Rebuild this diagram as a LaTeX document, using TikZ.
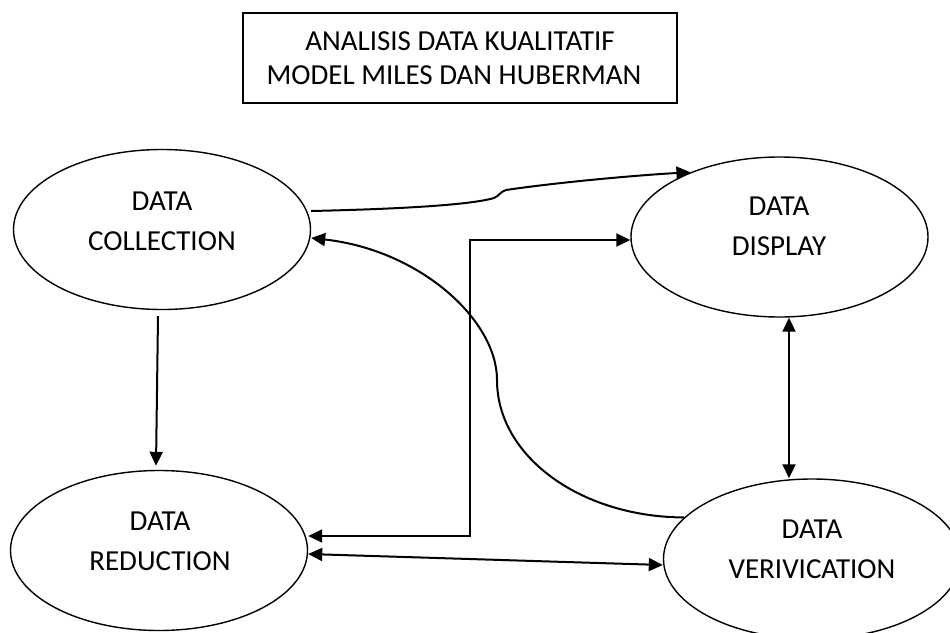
\documentclass[tikz,border=0pt]{standalone}
\usepackage{fontspec}
\setmainfont{Carlito}
\usetikzlibrary{shapes.geometric,arrows.meta}
\begin{document}
\begin{tikzpicture}[x=1pt,y=-1pt]
       \tikzstyle{bubble}=[draw,ellipse,line width=1.4pt,minimum width=297pt,minimum height=160pt,inner sep=0pt]
       \tikzstyle{bubbletext}=[align=center,font=\fontsize{29}{40}\selectfont]
       \tikzstyle{titlebox}=[draw,line width=1.4pt,minimum width=434pt,minimum height=90pt,align=center,font=\fontsize{29}{34}\selectfont]
       \tikzstyle{flow}=[line width=2pt,-{Triangle[length=14pt,width=13pt]}]
       \tikzstyle{twoway}=[line width=2pt,{Triangle[length=14pt,width=13pt]}-{Triangle[length=14pt,width=13pt]}]
       \useasboundingbox (0,0) rectangle (950,632);
       \node[titlebox] (title) at (460,58) {ANALISIS DATA KUALITATIF\\MODEL MILES DAN HUBERMAN\hspace*{12pt}};
       % the four stages
       \node[bubble] (collect) at (162,229.5) {};
       \node[bubble] (display) at (779.5,237) {};
       \node[bubble] (reduce) at (159,550.5) {};
       \node[bubble] (verify) at (812,559) {};
       \node[bubbletext] (collecttext) at (162,221) {DATA\\COLLECTION};
       \node[bubbletext] (displaytext) at (779,226.5) {DATA\\DISPLAY};
       \node[bubbletext] (reducetext) at (160,541.5) {DATA\\REDUCTION};
       \node[bubbletext] (verifytext) at (812,549.5) {DATA\\VERIVICATION};
       \coordinate (bend) at (470,400);
       \coordinate (turn) at (497,380);
       % connectors
       \draw[flow] ([yshift=18.5pt]collect.east) .. controls (400,209) and (470,205) .. (494,198)
              .. controls (499,196) and (500,192) .. (506,190)
              .. controls (560,182) and (640,175) .. (display.144);
       \draw[twoway] ([yshift=14.5pt]reduce.east) -| (bend) |- ([yshift=-3pt]display.west);
       \draw[flow] (verify.162) .. controls (580,517) and (497,456) .. (turn)
              .. controls (497,320) and (420,250) .. ([yshift=-8.5pt]collect.east);
       \draw[flow] ([shift={(-4pt,-6pt)}]collect.south) -- ([shift={(-3pt,4pt)}]reduce.north);
       \draw[twoway] ([xshift=9.5pt]display.south) -- ([xshift=-23pt]verify.north);
       \draw[twoway] ([yshift=-3.5pt]reduce.east) -- ([yshift=-6pt]verify.west);
\end{tikzpicture}
\end{document}
